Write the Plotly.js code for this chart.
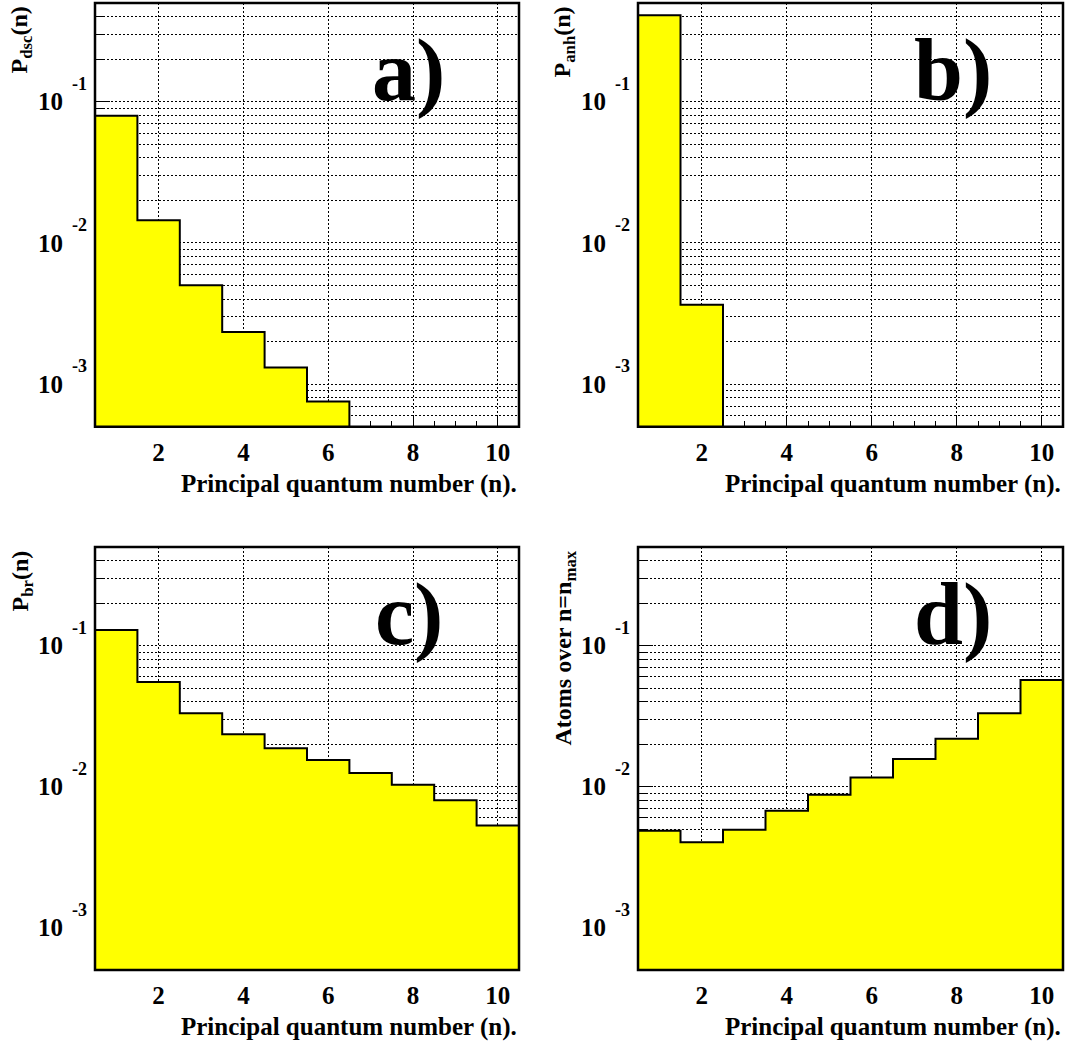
<!DOCTYPE html>
<html><head><meta charset="utf-8">
<script src="https://cdn.plot.ly/plotly-3.0.1.min.js"></script>
<style>body{margin:0;background:#fff}</style>
</head><body><div id="chart" style="width:1066px;height:1046px"></div>
<script>
// ---- data ----
const n = [1, 2, 3, 4, 5, 6, 7, 8, 9, 10];
const pDsc = [0.0796, 0.0145, 0.00502, 0.00234, 0.00131, 0.000755, 0, 0, 0, 0];
const pAnh = [0.41, 0.00365, 0, 0, 0, 0, 0, 0, 0, 0];
const pBr = [0.129, 0.0551, 0.0331, 0.0235, 0.0187, 0.0154, 0.0125, 0.0103, 0.0080, 0.0053];
const atomsOver = [0.00486, 0.00403, 0.00494, 0.00673, 0.00873, 0.0116, 0.0157, 0.0218, 0.0331, 0.0569];
const yTickVals = [1e-3, 1e-2, 1e-1];
const yTickText = ['10', '10', '10'];
const yExpText = ['-3', '-2', '-1'];
const xTickVals = [2, 4, 6, 8, 10];
const xTickText = ['2', '4', '6', '8', '10'];
const panelLabels = ['a)', 'b)', 'c)', 'd)'];
const yTitles = ['P<sub>dsc</sub>(n)', 'P<sub>anh</sub>(n)', 'P<sub>br</sub>(n)', 'Atoms over n=n<sub>max</sub>'];
const xTitle = 'Principal quantum number (n).';
const series = [pDsc, pAnh, pBr, atomsOver];

// ---- layout constants ----
const W = 1066, H = 1046;
const FONT = 'Liberation Serif, Times New Roman, serif';
const yMin = 5e-4, yMax = 0.5;
const boxes = [
  {l: 95, r: 519, t: 3, b: 426.7},
  {l: 638, r: 1063, t: 3, b: 426.7},
  {l: 95, r: 519, t: 547, b: 970},
  {l: 638, r: 1063, t: 547, b: 970}
];

// minor log ticks (2..9 x 10^k) inside the range
const minorY = [];
for (let k = -4; k <= -1; k++) {
  for (let m = 2; m <= 9; m++) {
    const v = m * Math.pow(10, k);
    if (v >= yMin * 0.999 && v <= yMax * 1.001) minorY.push(v);
  }
}

const traces = [];
const layout = {
  width: W, height: H,
  margin: {l: 0, r: 0, t: 0, b: 0},
  paper_bgcolor: '#fff', plot_bgcolor: '#fff',
  showlegend: false, hovermode: false,
  bargap: 0,
  annotations: [], shapes: []
};

series.forEach((vals, i) => {
  const sfx = i === 0 ? '' : String(i + 1);
  const xa = 'x' + sfx, ya = 'y' + sfx;
  const bx = boxes[i];
  // filled histogram
  traces.push({
    type: 'bar', x: n, y: vals, width: 1,
    marker: {color: '#ffff00', line: {width: 0}},
    xaxis: xa, yaxis: ya, hoverinfo: 'skip'
  });
  // step outline
  const edges = n.map(v => v - 0.5).concat([n[n.length - 1] + 0.5]);
  const stepY = vals.concat([vals[vals.length - 1]]).map(v => v > 0 ? v : 1e-9);
  traces.push({
    type: 'scatter', mode: 'lines', x: edges, y: stepY,
    line: {shape: 'hv', color: '#000', width: 2},
    xaxis: xa, yaxis: ya, hoverinfo: 'skip', cliponaxis: true
  });

  const axFont = {family: FONT, size: 25, color: '#000', weight: 'bold'};
  layout['xaxis' + sfx] = {
    domain: [bx.l / W, bx.r / W],
    anchor: ya,
    range: [0.5, 10.5],
    tickmode: 'array', tickvals: xTickVals, ticktext: xTickText,
    ticks: 'inside', ticklen: 12, tickwidth: 1, tickcolor: '#000',
    tickfont: axFont, ticklabelstandoff: 8,
    showgrid: true, gridcolor: '#000', gridwidth: 1, griddash: '2px,2px',
    minor: {tick0: 0, dtick: 0.5, ticks: 'inside', ticklen: 6, tickwidth: 1, tickcolor: '#000', showgrid: false},
    showline: false, zeroline: false, layer: 'below traces', fixedrange: true
  };
  layout['yaxis' + sfx] = {
    domain: [1 - bx.b / H, 1 - bx.t / H],
    anchor: xa,
    type: 'log',
    range: [Math.log10(yMin), Math.log10(yMax)],
    tickmode: 'array', tickvals: yTickVals, ticktext: yTickText,
    ticks: 'inside', ticklen: 15, tickwidth: 1, tickcolor: '#000',
    tickfont: axFont, ticklabelstandoff: 31,
    showgrid: true, gridcolor: '#000', gridwidth: 1, griddash: '2px,2px',
    minor: {tickmode: 'array', tickvals: minorY, ticks: 'inside', ticklen: 8, tickwidth: 1, tickcolor: '#000',
            showgrid: true, gridcolor: '#000', gridwidth: 1, griddash: '2px,2px'},
    showline: false, zeroline: false, layer: 'below traces', fixedrange: true
  };

  // frame
  layout.shapes.push({
    type: 'rect', xref: xa + ' domain', yref: ya + ' domain',
    x0: 0, x1: 1, y0: 0, y1: 1, layer: 'above',
    line: {color: '#000', width: 2.5}, fillcolor: 'rgba(0,0,0,0)'
  });

  // exponents of the decade labels
  yTickVals.forEach((tv, j) => {
    layout.annotations.push({
      xref: xa + ' domain', yref: ya, x: 0, y: Math.log10(tv),
      xanchor: 'right', yanchor: 'middle', xshift: -6, yshift: 18,
      text: yExpText[j], showarrow: false,
      font: {family: FONT, size: 18, color: '#000', weight: 'bold'}
    });
  });

  // y title (rotated, aligned to the top of the axis)
  layout.annotations.push({
    xref: xa + ' domain', yref: ya + ' domain', x: 0, y: 1,
    xanchor: 'center', yanchor: 'top', xshift: -74, yshift: -2,
    textangle: -90, text: yTitles[i], showarrow: false,
    font: {family: FONT, size: 24, color: '#000', weight: 'bold'}
  });

  // x title (right aligned)
  layout.annotations.push({
    xref: xa + ' domain', yref: ya + ' domain', x: 1, y: 0,
    xanchor: 'right', yanchor: 'top', xshift: 0, yshift: -41,
    text: xTitle, showarrow: false,
    font: {family: FONT, size: 25, color: '#000', weight: 'bold'}
  });

  // panel label
  layout.annotations.push({
    xref: xa + ' domain', yref: ya + ' domain', x: 0.74, y: 0.84,
    xanchor: 'center', yanchor: 'middle',
    text: panelLabels[i], showarrow: false,
    font: {family: FONT, size: 88, color: '#000', weight: 'bold'}
  });
});

Plotly.newPlot('chart', traces, layout, {staticPlot: true, displayModeBar: false});
</script>
</body></html>
